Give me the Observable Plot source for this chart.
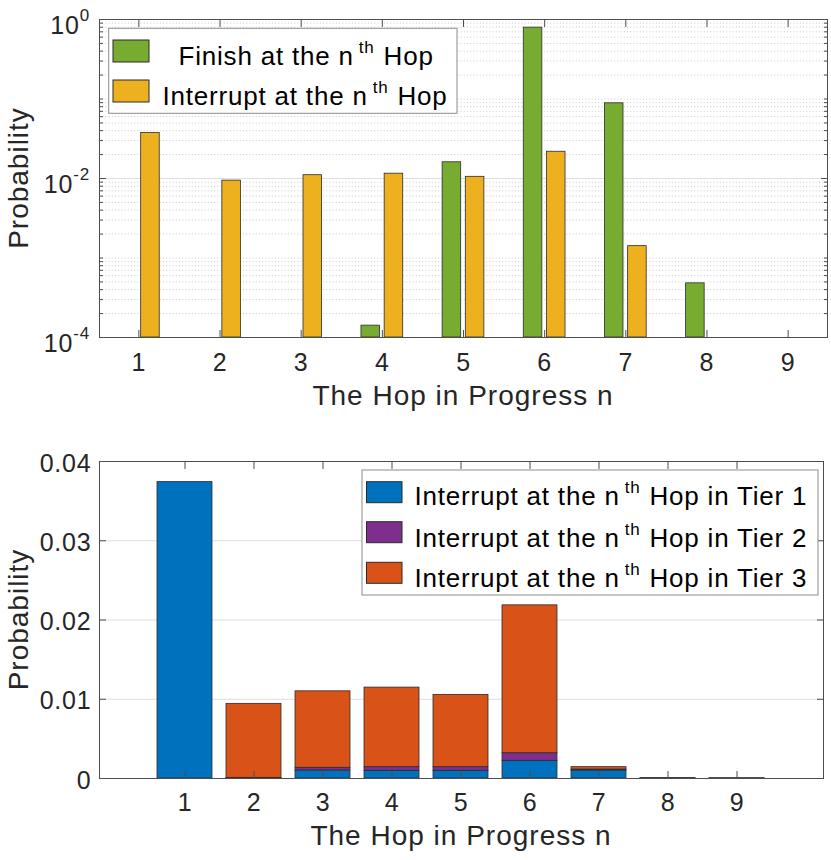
<!DOCTYPE html>
<html>
<head>
<meta charset="utf-8">
<script src="https://cdn.jsdelivr.net/npm/d3@7"></script>
<script src="https://cdn.jsdelivr.net/npm/@observablehq/plot@0.6"></script>
<style>
  html, body { margin: 0; padding: 0; background: #fff; }
  #chart { width: 831px; }
  #chart svg { display: block; }
</style>
</head>
<body>
<div id="chart"></div>
<script>
// ---------------- data ----------------
const hops = [1, 2, 3, 4, 5, 6, 7, 8, 9];
const finishProb    = [0, 0, 0, 0.000141, 0.0160, 0.790, 0.0883, 0.00048, 0];
const interruptProb = [0.0373, 0.0094, 0.0110, 0.0115, 0.0105, 0.0217, 0.00141, 0.00002, 0.000005];

const tier1Prob = [0.0374, 0.00003, 0.00101, 0.00097, 0.00097, 0.00223, 0.00101, 0.000012, 0.000003];
const tier2Prob = [0, 0.00005, 0.00034, 0.00046, 0.00046, 0.00096, 0.00012, 0.000004, 0.000001];
const tier3Prob = [0, 0.00934, 0.00965, 0.01004, 0.00912, 0.01866, 0.00030, 0.000004, 0.000001];

const topSeries = ["Finish", "Interrupt"];
const topColors = ["#77AC30", "#EDB120"];
const topLegend = [["Finish at the n", "th", "Hop"], ["Interrupt at the n", "th", "Hop"]];

const tierSeries = ["Tier 1", "Tier 2", "Tier 3"];
const tierColors = ["#0072BD", "#7E2F8E", "#D95319"];
const tierLegend = [
  ["Interrupt at the n", "th", "Hop in Tier 1"],
  ["Interrupt at the n", "th", "Hop in Tier 2"],
  ["Interrupt at the n", "th", "Hop in Tier 3"]
];

const topMajorTicks = [1e-4, 1e-2, 1];
const topTickExponents = ["-4", "-2", "0"];
const bottomTicks = [0, 0.01, 0.02, 0.03, 0.04];
const bottomTickLabels = ["0", "0.01", "0.02", "0.03", "0.04"];
const xLabel = "The Hop in Progress n";
const yLabel = "Probability";

// ---------------- helpers ----------------
const FONT = '"Liberation Sans", Arial, Helvetica, sans-serif';
const TEXT = "#262626";
const BOX = "#4d4d4d";
const EDGE = "#2b2b2b";
const baseStyle = {fontFamily: FONT, fontSize: "25px", color: TEXT, background: "#fff", letterSpacing: "0.8px", overflow: "visible"};

function tickOnly(kind, anchor, ticks, size) {
  const o = {anchor, ticks, tickSize: size, tickFormat: () => "", label: null, stroke: BOX};
  if (kind === "x") { o.dy = anchor === "bottom" ? -size : size; return Plot.axisX(o); }
  o.dx = anchor === "left" ? size : -size; return Plot.axisY(o);
}

function addLegend(svg, box, entries, colors, swatchX, swatchW, swatchH, swatchYs, textXs, baselines) {
  const g = d3.select(svg).append("g").attr("font-family", FONT).attr("fill", "#000")
    .attr("text-anchor", "start").style("letter-spacing", "0.8px");
  g.append("rect").attr("x", box[0]).attr("y", box[1]).attr("width", box[2]).attr("height", box[3])
    .attr("fill", "#fff").attr("stroke", "#8c8c8c").attr("stroke-width", 1);
  entries.forEach((parts, i) => {
    g.append("rect").attr("x", swatchX).attr("y", swatchYs[i]).attr("width", swatchW).attr("height", swatchH)
      .attr("fill", colors[i]).attr("stroke", EDGE).attr("stroke-width", 1);
    const t = g.append("text").attr("x", textXs[i]).attr("y", baselines[i]).attr("font-size", 26).attr("text-anchor", "start");
    t.append("tspan").text(parts[0]);
    t.append("tspan").attr("dx", 5).attr("dy", -12).attr("font-size", 17).text(parts[1]);
    t.append("tspan").attr("dx", 9).attr("dy", 12).attr("font-size", 26).text(parts[2]);
  });
}

function addTitles(svg, xCenter, xBaseline, yCenter) {
  const s = d3.select(svg);
  s.append("text").attr("x", xCenter).attr("y", xBaseline).attr("text-anchor", "middle")
    .attr("font-family", FONT).attr("font-size", 28).style("letter-spacing", "1px").attr("fill", TEXT).text(xLabel);
  s.append("text").attr("transform", `translate(28,${yCenter}) rotate(-90)`).attr("text-anchor", "middle")
    .attr("font-family", FONT).attr("font-size", 28).style("letter-spacing", "1px").attr("fill", TEXT).text(yLabel);
}

const root = document.getElementById("chart");

// ---------------- top chart (log scale, grouped bars) ----------------
const topData = [];
hops.forEach((n, i) => {
  topData.push({n, s: topSeries[0], k: 0, v: finishProb[i]});
  topData.push({n, s: topSeries[1], k: 1, v: interruptProb[i]});
});
const topVisible = topData.filter(d => d.v >= 1e-4);
const groupW = 2 / (2 + 1.5);
const barW = groupW / 2 * 0.8;
const offset = k => (k - 0.5) * groupW / 2;

const minorTicks = [];
for (let e = -4; e < 0; e++) for (let m = 1; m <= 9; m++) {
  if (m === 1 && e % 2 === 0) continue;
  minorTicks.push(m * Math.pow(10, e));
}

const topChart = Plot.plot({
  width: 831, height: 430,
  marginLeft: 99, marginRight: 4, marginTop: 19, marginBottom: 93,
  style: baseStyle,
  x: {domain: [0.515, 9.485]},
  y: {type: "log", domain: [1e-4, 1]},
  color: {domain: topSeries, range: topColors},
  marks: [
    Plot.ruleY(minorTicks, {stroke: "#c9c9c9", strokeDasharray: "1,2.2", strokeWidth: 1}),
    Plot.ruleY([1e-2], {stroke: "#dedede", strokeWidth: 1}),
    Plot.rect(topVisible, {
      x1: d => d.n + offset(d.k) - barW / 2,
      x2: d => d.n + offset(d.k) + barW / 2,
      y1: 1e-4, y2: "v", fill: "s", stroke: EDGE, strokeWidth: 0.8
    }),
    Plot.axisX({anchor: "bottom", ticks: hops, tickSize: 0, tickPadding: 16, fontSize: 25, tickFormat: d => String(d), label: null}),
    tickOnly("x", "bottom", hops, 7),
    tickOnly("x", "top", hops, 7),
    tickOnly("y", "left", topMajorTicks, 7),
    tickOnly("y", "right", topMajorTicks, 7),
    tickOnly("y", "left", minorTicks, 4),
    tickOnly("y", "right", minorTicks, 4),
    Plot.frame({stroke: BOX, strokeWidth: 1})
  ]
});
root.appendChild(topChart);
{
  const ys = topChart.scale("y");
  const g = d3.select(topChart).append("g").attr("font-family", FONT).attr("fill", TEXT).style("letter-spacing", "0.8px");
  topMajorTicks.forEach((v, i) => {
    const t = g.append("text").attr("x", 90).attr("y", ys.apply(v) + 15).attr("text-anchor", "end").attr("font-size", 25);
    t.append("tspan").text("10");
    t.append("tspan").attr("dy", -13).attr("font-size", 17).text(topTickExponents[i]);
  });
  const yr = ys.range;
  addTitles(topChart, (99 + 827) / 2, 405, (yr[0] + yr[1]) / 2);
  addLegend(topChart, [108.7, 28.3, 348.3, 85], topLegend, topColors, 113, 36, 22, [40, 80], [178.5, 162.5], [65, 105]);
}

// ---------------- bottom chart (stacked bars) ----------------
const tierArrays = [tier1Prob, tier2Prob, tier3Prob];
const tierData = [];
hops.forEach((n, i) => tierSeries.forEach((t, j) => tierData.push({n, tier: t, v: tierArrays[j][i]})));

const bottomChart = Plot.plot({
  width: 831, height: 430,
  marginLeft: 99, marginRight: 8, marginTop: 31, marginBottom: 82,
  style: baseStyle,
  x: {type: "band", domain: hops, paddingInner: 0.2, paddingOuter: 0.81},
  y: {domain: [0, 0.04]},
  color: {domain: tierSeries, range: tierColors},
  marks: [
    Plot.ruleY([0.01, 0.02, 0.03], {stroke: "#dedede", strokeWidth: 1}),
    Plot.barY(tierData, {x: "n", y: "v", fill: "tier", stroke: EDGE, strokeWidth: 0.8}),
    Plot.axisX({anchor: "bottom", tickSize: 0, tickPadding: 15, fontSize: 25, tickFormat: d => String(d), label: null}),
    Plot.axisY({anchor: "left", ticks: bottomTicks, tickSize: 0, tickPadding: 8, dy: 2, fontSize: 25,
      tickFormat: d => bottomTickLabels[bottomTicks.indexOf(d)], label: null}),
    tickOnly("x", "bottom", hops, 7),
    tickOnly("x", "top", hops, 7),
    tickOnly("y", "left", bottomTicks, 7),
    tickOnly("y", "right", bottomTicks, 7),
    Plot.frame({stroke: BOX, strokeWidth: 1})
  ]
});
root.appendChild(bottomChart);
{
  const yr = bottomChart.scale("y").range;
  addTitles(bottomChart, (99 + 823) / 2, 415, (yr[0] + yr[1]) / 2);
  addLegend(bottomChart, [362, 40, 456, 125], tierLegend, tierColors, 366.5, 35.5, 21, [51.7, 91.7, 132.3], [414.5, 414.5, 414.5], [75, 116.7, 156.7]);
}
</script>
</body>
</html>
